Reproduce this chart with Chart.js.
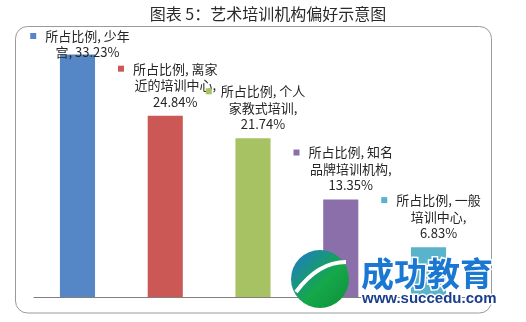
<!DOCTYPE html>
<html>
<head>
<meta charset="utf-8">
<script src="https://cdn.jsdelivr.net/npm/chart.js@4/dist/chart.umd.min.js"></script>
<style>
  html, body { margin: 0; padding: 0; background: #fff; }
  #wrap { width: 526px; height: 322px; }
</style>
</head>
<body>
<div id="wrap"><canvas id="chart" width="526" height="322"></canvas></div>
<script>
const seriesName = '所占比例'
const categories = ['少年宫', '离家近的培训中心', '个人家教式培训', '知名品牌培训机构', '一般培训中心']
const values = [33.23, 24.84, 21.74, 13.35, 6.83]
const barColors = ['#5586C5', '#CB5855', '#A6C263', '#8A6FAA', '#58B3CB']
// how many chars of the category fit on the first label line, and whether the value shares line 2
const catBreak = [2, 2, 2, 2, 2]
const valueInline = [true, false, false, false, false]

const FONT = '"Noto Sans CJK SC", "Noto Sans", sans-serif'

function labelLines(i) {
  let cat = categories[i]
  let val = values[i].toFixed(2) + '%'
  let lines = [seriesName + ', ' + cat.slice(0, catBreak[i])]
  let rest = cat.slice(catBreak[i]) + ','
  if (valueInline[i]) {
    lines.push(rest + ' ' + val)
  } else {
    lines.push(rest)
    lines.push(val)
  }
  return lines
}

const frame = {
  id: 'frame',
  beforeDraw(chart) {
    const ctx = chart.ctx
    ctx.save()
    ctx.fillStyle = '#fff'
    ctx.fillRect(0, 0, chart.width, chart.height)
    ctx.strokeStyle = '#9a9a9a'
    ctx.lineWidth = 1
    ctx.beginPath()
    ctx.roundRect(15.5, 26.5, 476, 286.5, 12)
    ctx.stroke()
    ctx.fillStyle = '#2a2a2a'
    ctx.font = '16px ' + FONT
    ctx.textAlign = 'center'
    ctx.textBaseline = 'middle'
    ctx.fillText('图表 5：艺术培训机构偏好示意图', 268, 14)
    ctx.restore()
  },
  afterDatasetsDraw(chart) {
    const ctx = chart.ctx
    const area = chart.chartArea
    const y0 = chart.scales.y.getPixelForValue(0)
    ctx.save()
    ctx.strokeStyle = '#808080'
    ctx.lineWidth = 1
    ctx.beginPath()
    ctx.moveTo(area.left, Math.round(y0) + 0.5)
    ctx.lineTo(area.right + 3, Math.round(y0) + 0.5)
    ctx.stroke()

    const meta = chart.getDatasetMeta(0)
    const lh = 16.5
    ctx.font = '13px ' + FONT
    ctx.textAlign = 'center'
    ctx.textBaseline = 'middle'
    meta.data.forEach((bar, i) => {
      let lines = labelLines(i)
      let cx = bar.x + 10
      let first = bar.y - 14 - (lines.length - 1) * lh
      if (first < 36) first = 36
      lines.forEach((t, j) => {
        let y = first + j * lh
        ctx.fillStyle = '#262626'
        ctx.fillText(t, cx, y)
        if (j === 0) {
          let w = ctx.measureText(t).width
          ctx.fillStyle = barColors[i]
          ctx.fillRect(cx - w / 2 - 15, y - 3, 6, 6)
        }
      })
    })
    ctx.restore()
  },
  afterDraw(chart) {
    // watermark overlay
    const ctx = chart.ctx
    ctx.save()
    let g = ctx.createLinearGradient(292, 250, 350, 308)
    g.addColorStop(0, '#1f78d1')
    g.addColorStop(0.55, '#15a84a')
    g.addColorStop(1, '#0f8f3a')
    ctx.fillStyle = g
    ctx.beginPath()
    ctx.arc(320, 279, 29, 0, Math.PI * 2)
    ctx.fill()
    ctx.strokeStyle = '#fff'
    ctx.lineWidth = 4
    ctx.beginPath()
    ctx.moveTo(296, 292)
    ctx.quadraticCurveTo(318, 262, 346, 262)
    ctx.stroke()

    ctx.font = 'bold 33px ' + FONT
    ctx.textAlign = 'left'
    ctx.textBaseline = 'middle'
    ctx.lineWidth = 3
    ctx.strokeStyle = '#fff'
    ctx.strokeText('成功教育', 361, 273)
    ctx.fillStyle = '#1a78d2'
    ctx.fillText('成功教育', 361, 273)

    ctx.font = 'bold 15px "Liberation Sans", Arial, sans-serif'
    ctx.strokeText('www.succedu.com', 362, 299)
    ctx.fillStyle = '#1b3d8c'
    ctx.fillText('www.succedu.com', 362, 299)
    ctx.restore()
  }
}

new Chart(document.getElementById('chart'), {
  type: 'bar',
  data: {
    labels: categories,
    datasets: [{
      label: seriesName,
      data: values,
      backgroundColor: barColors,
      borderWidth: 0,
      barPercentage: 0.4,
      categoryPercentage: 1
    }]
  },
  options: {
    responsive: false,
    animation: false,
    layout: { padding: { left: 33.6, right: 53.6, top: 41.5, bottom: 25 } },
    scales: {
      x: { display: false },
      y: { display: false, min: 0, max: 35 }
    },
    plugins: {
      legend: { display: false },
      tooltip: { enabled: false },
      title: { display: false }
    }
  },
  plugins: [frame]
})
</script>
</body>
</html>
